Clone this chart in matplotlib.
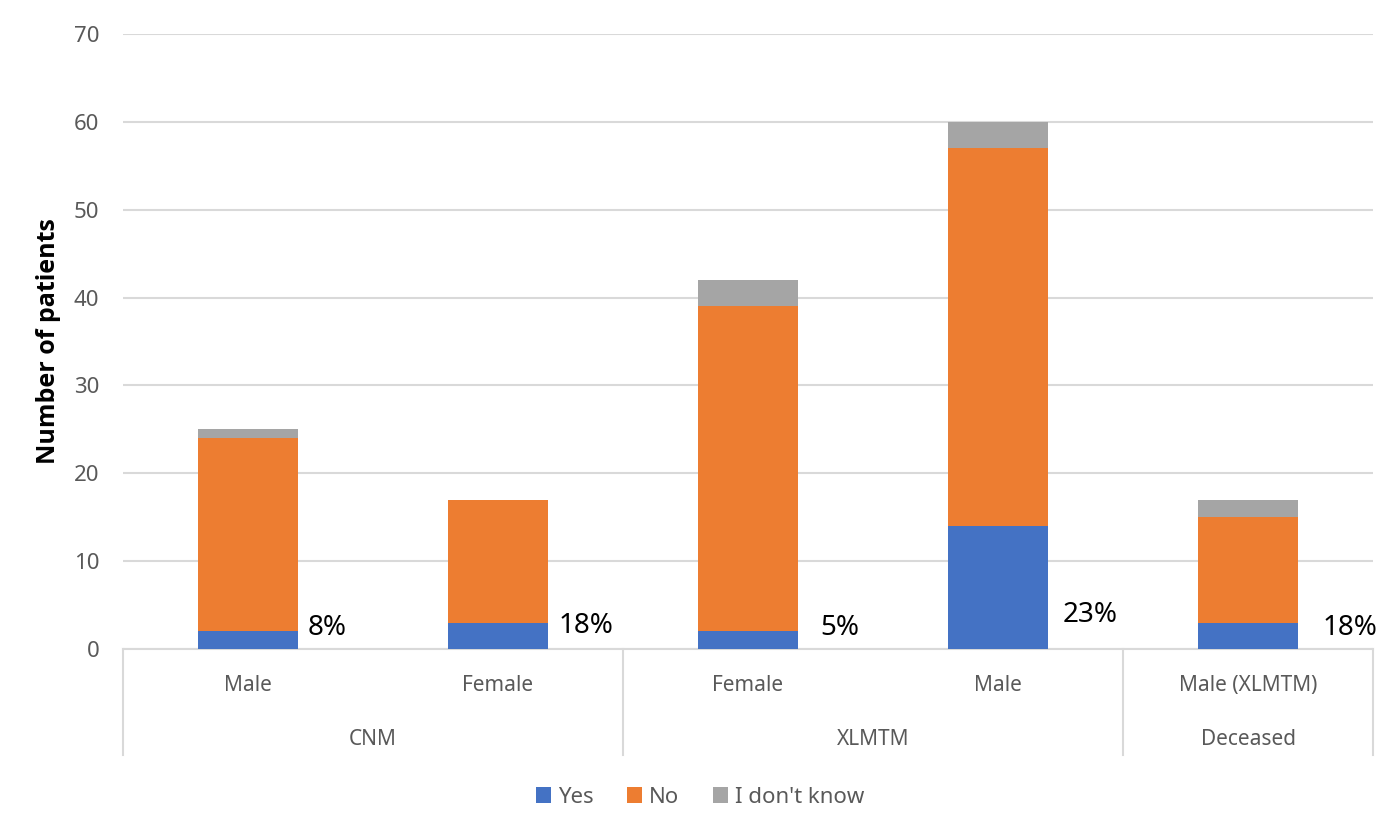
import matplotlib.pyplot as plt
from matplotlib.transforms import blended_transform_factory

plt.rcParams['font.family'] = ['Noto Sans', 'DejaVu Sans']

# data
subgroups = ["Male", "Female", "Female", "Male", "Male (XLMTM)"]
groups = ["CNM", "XLMTM", "Deceased"]
group_sizes = [2, 2, 1]
yes = [2, 3, 2, 14, 3]
no = [22, 14, 37, 43, 12]
dont_know = [1, 0, 3, 3, 2]
pct_labels = ["8%", "18%", "5%", "23%", "18%"]
pct_y = [2.4, 2.6, 2.4, 3.9, 2.4]
pct_dx = [0.04, 0.04, 0.09, 0.06, 0.10]

c_yes, c_no, c_idk = "#4472C4", "#ED7D31", "#A5A5A5"
grey_txt = "#595959"
grid_c = "#D9D9D9"

fig = plt.figure(figsize=(13.78, 8.16), dpi=100)
ax = fig.add_axes([0.0893, 0.2047, 0.9071, 0.7536])

x = list(range(len(subgroups)))
w = 0.4
bottom_no = yes
bottom_idk = [a + b for a, b in zip(yes, no)]
ax.bar(x, yes, w, color=c_yes, label="Yes", zorder=3)
ax.bar(x, no, w, bottom=bottom_no, color=c_no, label="No", zorder=3)
ax.bar(x, dont_know, w, bottom=bottom_idk, color=c_idk, label="I don't know", zorder=3)

# percentage labels beside each bar
for i, (lab, yv, dx) in enumerate(zip(pct_labels, pct_y, pct_dx)):
    ax.text(i + w / 2 + dx, yv, lab, fontsize=20, color="black",
            ha="left", va="center", clip_on=False)

ax.set_xlim(-0.5, len(subgroups) - 0.5)
ax.set_ylim(0, 70)
ax.set_yticks(range(0, 71, 10))
ax.tick_params(axis="y", length=0, labelsize=16, labelcolor=grey_txt, pad=17)
ax.set_xticks([])
ax.grid(axis="y", color=grid_c, linewidth=1.5, zorder=0)
for s in ["top", "right", "left"]:
    ax.spines[s].set_visible(False)
ax.spines["bottom"].set_color(grid_c)
ax.spines["bottom"].set_linewidth(1.5)

ax.set_ylabel("Number of patients", fontsize=18, fontweight="bold",
              family="Open Sans", color="black")
ax.yaxis.set_label_coords(-0.050, 0.5)

# two-level category axis
tr = blended_transform_factory(ax.transData, ax.transAxes)
for i, lab in enumerate(subgroups):
    ax.text(i, -0.06, lab, transform=tr, ha="center", va="center",
            fontsize=15, color=grey_txt)
start = 0
edges = [-0.5]
for g, n in zip(groups, group_sizes):
    mid = start + (n - 1) / 2
    ax.text(mid, -0.148, g, transform=tr, ha="center", va="center",
            fontsize=15, color=grey_txt)
    start += n
    edges.append(start - 0.5)
for e in edges:
    ax.plot([e, e], [0, -0.172], transform=tr, color=grid_c,
            linewidth=1.5, clip_on=False)

fig.legend(loc="center", bbox_to_anchor=(0.508, 0.023), ncol=3, frameon=False,
           fontsize=16, labelcolor=grey_txt, handlelength=0.7, handleheight=0.7,
           handletextpad=0.3, columnspacing=1.5)

fig.savefig("out.png", dpi=100)
